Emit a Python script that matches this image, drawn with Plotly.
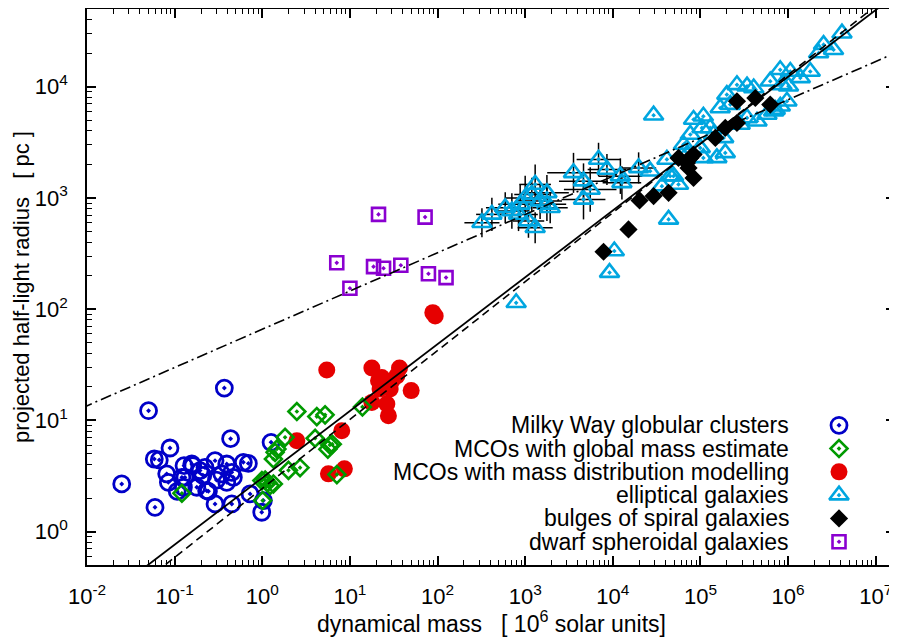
import numpy as np
import plotly.graph_objects as go

# ---------------- data (mass in 1e6 Msun, radius in pc) ----------------
gc_mass = [0.369, 0.0504, 0.435, 0.0885, 1.26, 0.0249, 0.0597, 0.0586, 0.0668, 0.0812,
           0.0848, 0.128, 0.161, 0.131, 0.126, 0.179, 0.232, 0.289, 0.449, 0.222,
           0.289, 0.393, 0.449, 0.393, 0.608, 0.694, 0.726, 0.986, 1.03, 0.345,
           0.468, 0.243, 0.121, 0.157, 0.195, 0.30, 0.21, 0.107]
gc_radius = [19.5, 12.2, 6.84, 5.64, 6.34, 2.68, 1.65, 4.49, 4.40, 3.30,
             2.77, 3.91, 3.91, 3.07, 2.50, 2.50, 2.33, 1.77, 1.77, 3.77,
             4.34, 4.05, 3.41, 2.77, 4.19, 4.10, 2.18, 1.49, 1.90, 3.30,
             3.07, 2.30, 3.07, 4.05, 3.53, 2.9, 3.2, 2.3]

mco_glob_mass = [0.121, 2.48, 4.19, 5.21, 1.82, 1.47, 1.34, 2.70, 1.99, 4.01, 5.9,
                 5.6, 6.3, 7.1, 1.08, 1.34, 1.01, 13.9, 1.40, 0.99, 1.23, 1.15]
mco_glob_radius = [2.21, 12.0, 10.8, 11.2, 7.03, 5.52, 4.49, 3.75, 3.55, 6.9, 6.0,
                   5.5, 6.1, 3.25, 2.91, 2.68, 1.90, 13.2, 5.15, 2.87, 2.59, 2.75]

mco_mod_mass = [88.3, 94.0, 5.44, 17.8, 36.8, 21.2, 25.2, 30.1, 22.1, 28.8,
                50.0, 17.8, 26.4, 27.5, 8.07, 2.48, 5.69, 8.65, 23.1, 34.3]
mco_mod_radius = [93.0, 86.9, 28.3, 29.5, 29.5, 22.7, 21.2, 22.7, 19.1, 19.1,
                  18.5, 14.5, 14.0, 11.0, 8.07, 6.56, 3.30, 3.66, 24.3, 25.1]

# elliptical galaxies with error bars (errors in dex)
ell_err_mass = [321, 417, 592, 705, 877, 1000, 1190, 1300, 1480, 1770, 1930, 1090,
                1300, 840, 1770, 3560, 4630, 6870, 8570, 5520, 4630, 12200, 12700, 19700]
ell_err_radius = [598, 711, 815, 762, 875, 1000, 1075, 1322, 936, 875, 815, 619,
                  539, 711, 1111, 1680, 1415, 2218, 1803, 1192, 970, 1570, 1367, 1862]
ell_err_dmass = [0.20, 0.18, 0.22, 0.20, 0.25, 0.22, 0.20, 0.18, 0.25, 0.22, 0.20, 0.18,
                 0.20, 0.22, 0.25, 0.30, 0.28, 0.25, 0.22, 0.30, 0.25, 0.25, 0.22, 0.20]
ell_err_dradius = [0.13, 0.15, 0.14, 0.16, 0.18, 0.20, 0.15, 0.18, 0.16, 0.15, 0.14, 0.15,
                   0.14, 0.15, 0.16, 0.18, 0.16, 0.15, 0.14, 0.20, 0.18, 0.16, 0.15, 0.14]

# elliptical galaxies without error bars
ell_mass = [2.92e4, 789, 9170, 1.04e4, 4.33e4, 2.67e4, 4.14e4, 4.93e4, 5.62e4, 6.70e4,
            4.12e6, 2.54e6, 3.30e6, 2.23e6, 1.79e6, 1.38e6, 1.06e6, 8.13e5, 6.26e5, 8.51e5,
            1.01e6, 9.7e5, 8.15e5, 6.84e5, 5.74e5, 2.61e5, 3.40e5, 4.05e5, 2.0e5, 1.68e5,
            2.19e5, 1.08e5, 8.34e4, 1.29e5, 1.04e5, 1.41e5, 2.84e5, 3.40e5, 4.42e5, 7.14e5,
            1.84e5, 1.92e5, 1.54e5, 9.95e4, 1.08e5, 7.01e4, 6.41e4, 7.66e4, 4.52e4, 3.63e4]
ell_radius = [5540, 114, 213, 333, 641, 1740, 2218, 1570, 1322, 2630,
              3.03e4, 2.39e4, 2.15e4, 2.01e4, 1.37e4, 1.20e4, 1.37e4, 1.42e4, 1.12e4, 1.04e4,
              1.01e4, 7400, 6670, 6010, 5620, 1.04e4, 1.01e4, 9730, 8490, 6440,
              6910, 5420, 5070, 4260, 4260, 3720, 4570, 5240, 4890, 6230,
              3466, 2540, 2290, 2818, 2290, 2456, 3020, 3720, 1570, 1276]

bulge_mass = [7840, 1.51e4, 2.02e4, 2.92e4, 4.33e4, 5.62e4, 7.01e4, 7.66e4, 8.34e4,
              7.31e4, 8.34e4, 1.48e5, 1.92e5, 2.61e5, 2.61e5, 4.23e5, 6.26e5]
bulge_radius = [328, 521, 950, 1038, 1111, 2290, 2066, 2290, 2456,
                1862, 1514, 3466, 4260, 4720, 7400, 7920, 6910]

dsph_mass = [21.2, 72.1, 7.08, 18.6, 24.2, 38.1, 78.7, 125, 10.0]
dsph_radius = [711, 672, 261, 241, 233, 248, 208, 192, 154]

# fitted relations r = norm * M**slope
fit_solid = (3.04, 0.601)
fit_dashed = (2.44, 0.620)
fit_dashdot = (65.9, 0.344)

legend_labels = ["Milky Way globular clusters", "MCOs with global mass estimate",
                 "MCOs with mass distribution modelling", "elliptical galaxies",
                 "bulges of spiral galaxies", "dwarf spheroidal galaxies"]

x_tick_exps = list(range(-2, 8))
y_tick_exps = list(range(0, 5))

x_title = "dynamical mass   [ 10<sup>6</sup> solar units]"
y_title = "projected half-light radius   [ pc ]"

# ---------------- styles ----------------
FONT = "Liberation Sans, Arial, Helvetica, sans-serif"
BLUE = "#0000c8"
GREEN = "#009a00"
RED = "#e60000"
CYAN = "#00a6e0"
BLACK = "#000000"
PURPLE = "#8a00d0"

styles = [
    dict(symbol="circle-open-dot", size=16, color=BLUE, line=dict(width=2.8, color=BLUE)),
    dict(symbol="diamond-open-dot", size=13, color=GREEN, line=dict(width=2.6, color=GREEN)),
    dict(symbol="circle", size=17, color=RED, line=dict(width=0)),
    dict(symbol="triangle-up-open-dot", size=17, color=CYAN, line=dict(width=2.6, color=CYAN)),
    dict(symbol="diamond", size=14, color=BLACK, line=dict(width=0)),
    dict(symbol="square-open-dot", size=13, color=PURPLE, line=dict(width=2.6, color=PURPLE)),
]

fig = go.Figure()

# error bars of elliptical galaxies
em = np.array(ell_err_mass, dtype=float)
er = np.array(ell_err_radius, dtype=float)
dm = np.array(ell_err_dmass)
dr = np.array(ell_err_dradius)
fig.add_trace(go.Scatter(
    x=em, y=er, mode="markers", marker=dict(size=1, color="rgba(0,0,0,0)"),
    error_x=dict(type="data", symmetric=False, array=em * (10 ** dm - 1),
                 arrayminus=em * (1 - 10 ** -dm), color="black", thickness=1.5, width=0),
    error_y=dict(type="data", symmetric=False, array=er * (10 ** dr - 1),
                 arrayminus=er * (1 - 10 ** -dr), color="black", thickness=1.5, width=0),
    showlegend=False, hoverinfo="skip"))

series = [
    (gc_mass, gc_radius, 0),
    (mco_mod_mass, mco_mod_radius, 2),
    (mco_glob_mass, mco_glob_radius, 1),
    (list(ell_err_mass) + list(ell_mass), list(ell_err_radius) + list(ell_radius), 3),
    (bulge_mass, bulge_radius, 4),
    (dsph_mass, dsph_radius, 5),
]
for xs, ys, k in series:
    fig.add_trace(go.Scatter(x=xs, y=ys, mode="markers", marker=styles[k],
                             name=legend_labels[k], showlegend=False))

# fit lines
lx = np.array([-2.5, 7.6])
mline = 10 ** lx
for (norm, slope), dash, w in [(fit_dashed, "8px,5px", 1.6), (fit_solid, "solid", 1.8),
                               (fit_dashdot, "11px,4px,2px,4px", 1.6)]:
    fig.add_trace(go.Scatter(x=mline, y=norm * mline ** slope, mode="lines",
                             line=dict(color="black", width=w, dash=dash),
                             showlegend=False, hoverinfo="skip"))

# legend (text right, symbol far right) drawn on an overlay axis
leg_y0, leg_dy = 0.2513, 0.0419
leg_sym_x = 0.9307
leg_txt_x = 0.871
for i, lab in enumerate(legend_labels):
    yy = leg_y0 - i * leg_dy
    fig.add_trace(go.Scatter(x=[leg_sym_x], y=[yy], mode="markers", marker=styles[i],
                             xaxis="x2", yaxis="y2", showlegend=False, hoverinfo="skip"))
    fig.add_annotation(x=leg_txt_x, y=yy, xref="paper", yref="paper", text=lab,
                       showarrow=False, xanchor="right", yanchor="middle",
                       font=dict(size=23, family=FONT, color="black"))

# axis titles
fig.add_annotation(x=0.5, y=-0.1025, xref="paper", yref="paper", text=x_title,
                   showarrow=False, xanchor="center", yanchor="middle",
                   font=dict(size=23, family=FONT, color="black"))
fig.add_annotation(x=-0.0818, y=0.5, xref="paper", yref="paper", text=y_title,
                   showarrow=False, xanchor="center", yanchor="middle", textangle=-90,
                   font=dict(size=22, family=FONT, color="black"))

minor_x = [k * 10.0 ** e for e in range(-2, 8) for k in range(2, 10)]
minor_y = [k * 10.0 ** e for e in range(-1, 5) for k in range(2, 10)]

axis_common = dict(type="log", showline=True, linecolor="black", linewidth=1.6,
                   mirror="allticks", ticks="inside", ticklen=9, tickwidth=1.5,
                   tickcolor="black", showgrid=False, zeroline=False, automargin=False,
                   tickfont=dict(size=22, family=FONT, color="black"),
                   tickmode="array")

# the page body adds an 8px offset, so the figure is 8px smaller than the window
fig.update_layout(
    width=889, height=631,
    margin=dict(l=79, r=2, t=1, b=74),
    paper_bgcolor="white", plot_bgcolor="white",
    font=dict(family=FONT, color="black", size=23),
    showlegend=False,
    xaxis=dict(axis_common, range=[-2, 7.22],
               tickvals=[10.0 ** e for e in x_tick_exps],
               ticktext=[f"10<sup>{e}</sup>" for e in x_tick_exps],
               minor=dict(ticks="inside", ticklen=5, tickwidth=1.2, tickcolor="black",
                          tickvals=minor_x, showgrid=False),
               ticklabelstandoff=11),
    yaxis=dict(axis_common, range=[np.log10(0.5), np.log10(5e4)],
               tickvals=[10.0 ** e for e in y_tick_exps],
               ticktext=[f"10<sup>{e}</sup>" for e in y_tick_exps],
               minor=dict(ticks="inside", ticklen=5, tickwidth=1.2, tickcolor="black",
                          tickvals=minor_y, showgrid=False),
               ticklabelstandoff=13),
    xaxis2=dict(overlaying="x", range=[0, 1], visible=False, fixedrange=True),
    yaxis2=dict(overlaying="y", range=[0, 1], visible=False, fixedrange=True),
)

fig.write_html("out.html")
